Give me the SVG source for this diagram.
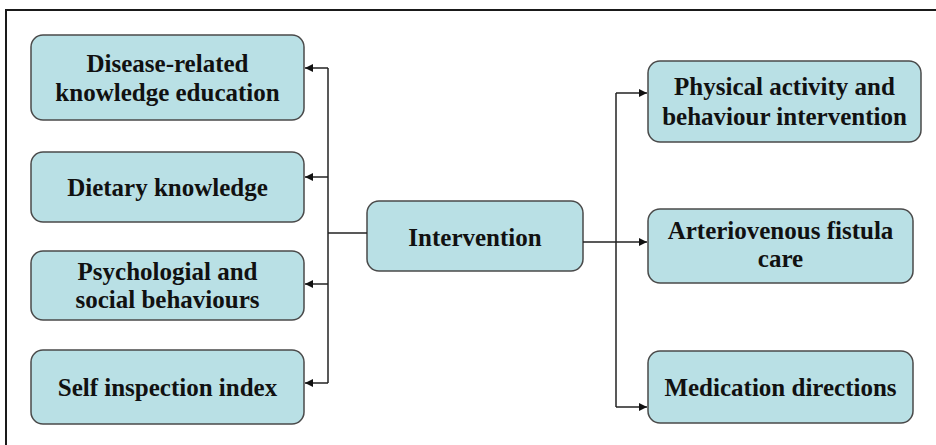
<svg xmlns="http://www.w3.org/2000/svg" width="936" height="445" viewBox="0 0 936 445">
<defs>
<style>
.box{fill:#b9e0e5;stroke:#4a4a4a;stroke-width:1.5}
.t{font-family:"Liberation Serif","Times New Roman",serif;font-weight:bold;font-size:25px;fill:#111;text-anchor:middle}
.ln{fill:none;stroke:#222;stroke-width:1.5}
</style>
<marker id="ah" viewBox="0 0 10 10" refX="10" refY="5" markerWidth="8" markerHeight="8" markerUnits="userSpaceOnUse" orient="auto">
<path d="M0,0 L10,5 L0,10 z" fill="#111"/>
</marker>
</defs>
<rect width="936" height="445" fill="#fff"/>
<path d="M6,445 L6,10 L936,10" fill="none" stroke="#1a1a1a" stroke-width="2"/>
<g id="n1"><rect class="box" x="31" y="35" width="273" height="85" rx="12"/><text class="t" x="167.5" y="72">Disease-related</text><text class="t" x="167.5" y="101">knowledge education</text></g>
<g id="n2"><rect class="box" x="31" y="152" width="273" height="70" rx="12"/><text class="t" x="167.5" y="196">Dietary knowledge</text></g>
<g id="n3"><rect class="box" x="31" y="251" width="273" height="69" rx="12"/><text class="t" x="167.5" y="280">Psychologial and</text><text class="t" x="167.5" y="308">social behaviours</text></g>
<g id="n4"><rect class="box" x="31" y="350" width="273" height="74" rx="12"/><text class="t" x="167.5" y="396">Self inspection index</text></g>
<g id="n5"><rect class="box" x="367" y="201" width="216" height="70" rx="12"/><text class="t" x="475" y="246">Intervention</text></g>
<g id="n6"><rect class="box" x="648" y="61" width="273" height="81" rx="12"/><text class="t" x="784.5" y="95">Physical activity and</text><text class="t" x="784.5" y="125">behaviour intervention</text></g>
<g id="n7"><rect class="box" x="648" y="209" width="265" height="74" rx="12"/><text class="t" x="780.5" y="239">Arteriovenous fistula</text><text class="t" x="780.5" y="267">care</text></g>
<g id="n8"><rect class="box" x="648" y="351" width="265" height="72" rx="12"/><text class="t" x="780.5" y="396">Medication directions</text></g>
<g id="connectors">
<path class="ln" d="M367,233 L328,233"/>
<path class="ln" d="M328,68 L328,383"/>
<path class="ln" d="M328,68 L305,68" marker-end="url(#ah)"/>
<path class="ln" d="M328,177 L305,177" marker-end="url(#ah)"/>
<path class="ln" d="M328,284 L305,284" marker-end="url(#ah)"/>
<path class="ln" d="M328,383 L305,383" marker-end="url(#ah)"/>
<path class="ln" d="M583,242 L647,242" marker-end="url(#ah)"/>
<path class="ln" d="M616,93 L616,407"/>
<path class="ln" d="M616,93 L647,93" marker-end="url(#ah)"/>
<path class="ln" d="M616,407 L647,407" marker-end="url(#ah)"/>
</g>
</svg>
